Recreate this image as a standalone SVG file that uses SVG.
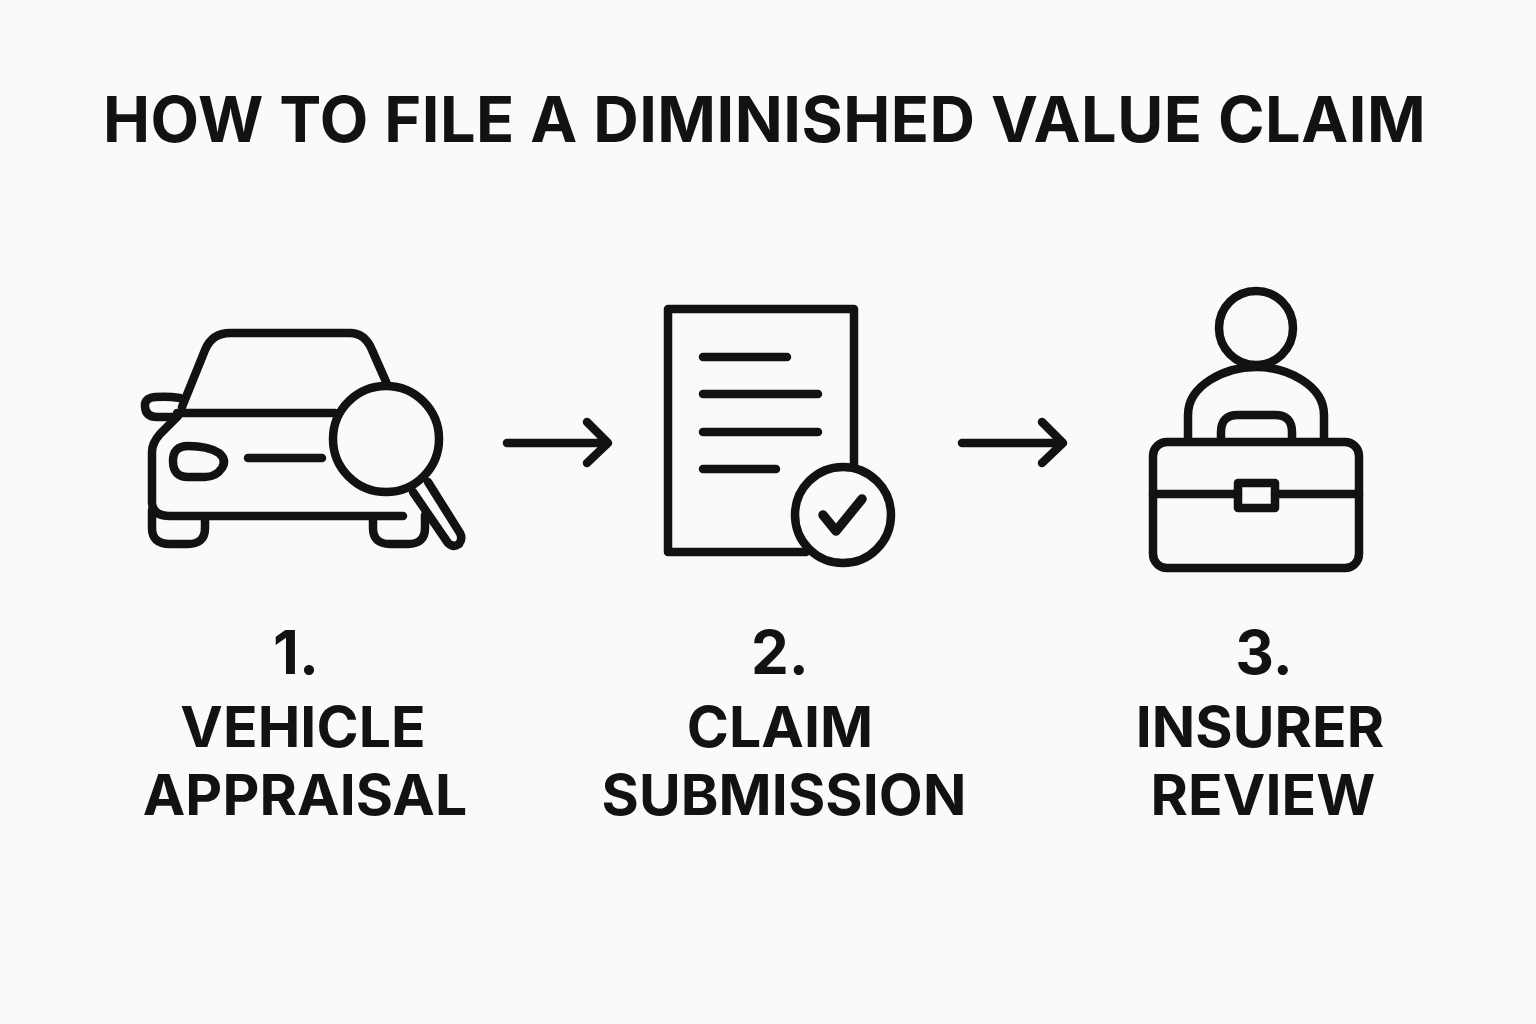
<svg xmlns="http://www.w3.org/2000/svg" width="1536" height="1024" viewBox="0 0 1536 1024">
<defs><style>
text{font-family:"Inter","Liberation Sans",sans-serif;font-weight:700;fill:#111312;text-anchor:middle}
.t{font-size:63px;letter-spacing:.5px}
.l{font-size:57px;letter-spacing:.1px}
.n{font-size:60px}
.i{fill:none;stroke:#111312;stroke-width:8.5;stroke-linecap:round;stroke-linejoin:round}
</style></defs>
<rect width="1536" height="1024" fill="#fafaf8"/>
<text class="t" x="764.5" y="142">HOW TO FILE A DIMINISHED VALUE CLAIM</text>
<g id="node-1">
<g class="i">
<path d="M182 407L205 350Q212 333 230 333H350Q365 333 372 350L387 384"/>
<path d="M180 398Q168 396 155 397Q144 398 145 407Q146 417 157 417H172"/>
<path d="M177 413H335"/>
<path d="M178 416L160 434Q152 443 152 452V503Q153 516 170 516H403"/>
<path d="M152 510V528Q152 544 170 544H188Q205 544 205 528V518"/>
<path d="M373 518V528Q373 544 390 544H408Q425 544 425 528V515"/>
<path d="M173 461Q173 446 188 446Q208 446 219 453Q227 460 222 468Q216 477 205 477H188Q173 477 173 461Z"/>
<path d="M248 458H322"/>
<circle cx="386" cy="439" r="53"/>
<path d="M413 492L448 543Q453 548 459 544Q463 539 460 533L428 482"/>
</g>
</g>
<g id="node-2">
<g class="i">
<path d="M806 552H668V309H854V465"/>
<path d="M703 357H787M703 394H818M703 432H818M703 469H776"/>
<circle cx="843" cy="515" r="48"/>
<path d="M823 515L836 531L862 499" stroke-width="9.5"/>
</g>
</g>
<g id="node-3">
<g class="i">
<circle cx="1256" cy="328" r="37"/>
<path d="M1188 440V415C1188 385 1225 367 1256 367C1287 367 1324 385 1324 415V440"/>
<path d="M1221 440V432Q1221 415 1238 415H1275Q1292 415 1292 432V440"/>
<rect x="1153" y="442" width="206" height="126" rx="14"/>
<path d="M1153 494H1238M1275 494H1359"/>
<rect x="1238" y="483" width="37" height="25"/>
</g>
</g>
<g id="connectors" class="i">
<path d="M507 443H606M587 422L608 443L587 463"/>
<path d="M962 443H1061M1042 422L1063 443L1042 463"/>
</g>
<g id="labels">
<text class="n" x="296" y="674">1.</text>
<text class="l" x="303" y="747">VEHICLE</text>
<text class="l" x="305" y="815">APPRAISAL</text>
<text class="n" x="780" y="674">2.</text>
<text class="l" x="780" y="747">CLAIM</text>
<text class="l" x="784" y="815">SUBMISSION</text>
<text class="n" x="1264" y="674">3.</text>
<text class="l" x="1260" y="747">INSURER</text>
<text class="l" x="1263" y="815">REVIEW</text>
</g>
</svg>
